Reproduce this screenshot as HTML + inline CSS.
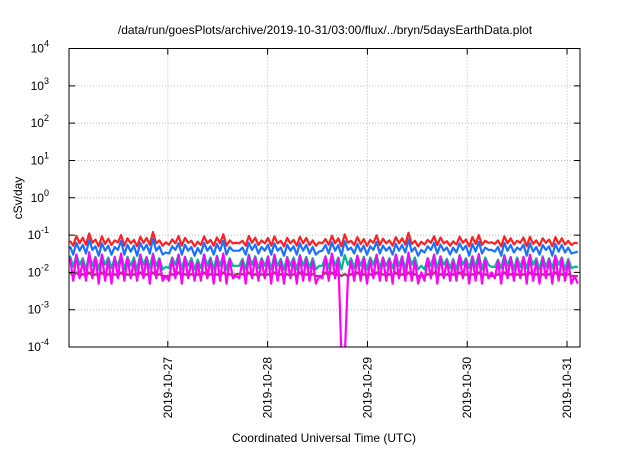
<!DOCTYPE html>
<html><head><meta charset="utf-8"><style>
body{margin:0;background:#fff;width:640px;height:448px;overflow:hidden}
svg text{font-family:"Liberation Sans",sans-serif;fill:#000}
</style></head><body>
<svg id="chart" width="640" height="448" viewBox="0 0 640 448" xmlns="http://www.w3.org/2000/svg">
<text x="325" y="34" font-size="12" text-anchor="middle">/data/run/goesPlots/archive/2019-10-31/03:00/flux/../bryn/5daysEarthData.plot</text>
<text transform="translate(22,198) rotate(-90)" font-size="12" text-anchor="middle">cSv/day</text>
<text x="324" y="442" font-size="12" text-anchor="middle">Coordinated Universal Time (UTC)</text>
<g id="grid"></g>
<defs><clipPath id="pc"><rect x="69" y="48.5" width="511" height="298.5"/></clipPath></defs>
<g id="series" clip-path="url(#pc)"></g>
<rect x="69" y="48.5" width="511" height="298.5" fill="none" stroke="#000" stroke-width="1"/>
<g id="ticks"></g>
</svg>
<script>
const yTickExps=[-4,-3,-2,-1,0,1,2,3,4];
const xTickLabels=["2019-10-27","2019-10-28","2019-10-29","2019-10-30","2019-10-31"];
const xTickDays=[1,2,3,4,5];
const startDay=0.02, stepDay=0.032;
const redMilli=[70,52,95,60,85,55,110,62,75,50,92,58,80,54,72,64,100,52,82,60,
74,50,90,62,84,55,120,60,72,52,64,55,76,60,94,52,84,62,70,50,
66,54,92,60,74,52,86,60,105,52,72,60,62,60,70,52,95,62,85,54,
72,60,84,52,92,60,70,50,84,60,74,52,90,60,84,54,72,52,64,60,
78,55,96,60,82,50,104,62,70,54,88,58,78,52,74,62,98,54,80,60,
72,52,88,60,82,56,115,58,70,50,66,56,74,62,92,54,86,60,68,52,
68,56,90,62,76,50,88,58,100,54,70,62,64,58,72,50,92,60,82,56,
70,62,86,50,90,58,72,52,82,62,76,50,88,58,82,56,70,54,62,60];
const blueMilli=[50,30,62,38,55,32,75,40,50,28,60,38,52,30,48,40,70,30,55,36,
52,28,62,40,55,32,80,38,50,30,34,32,50,40,60,30,55,38,48,28,
45,32,62,38,50,30,58,38,70,30,48,38,38,38,46,30,62,40,56,32,
48,38,55,30,60,38,46,28,55,38,50,30,60,38,55,32,48,30,36,38,
54,32,64,38,54,28,68,40,46,32,58,36,52,30,50,40,66,32,52,38,
48,30,58,38,54,34,76,36,46,28,40,34,50,40,62,32,56,38,46,30,
46,34,60,40,52,28,58,36,66,32,46,40,40,36,48,28,62,38,54,34,
46,40,56,28,60,36,48,30,54,40,50,28,58,36,54,34,46,32,34,36];
const greenMilli=[28,14,30,16,24,12,30,15,26,12,29,16,25,13,24,15,30,12,26,15,
25,12,30,16,26,13,32,15,24,12,14,13,25,16,30,12,26,15,24,12,
22,13,30,15,25,12,28,15,30,12,24,15,15,15,23,12,30,16,27,13,
24,15,27,12,29,15,23,12,26,15,25,12,29,15,26,13,24,12,15,15,
27,13,31,15,25,12,29,16,24,13,28,15,26,12,25,16,29,13,25,15,
24,13,29,15,27,12,31,16,25,12,15,12,24,15,29,13,27,16,23,13,
23,12,29,16,24,13,27,14,31,12,25,16,14,14,22,13,29,15,26,12,
25,14,26,13,28,16,24,12,27,14,24,13,28,16,25,12,23,13,14,14];
const brownMilli=[10,8,10,8,9,8,10,8,9,8,10,8,9,8,9,8,10,8,9,8,
9,8,10,8,9,8,10,8,9,8,8,8,9,8,10,8,9,8,9,8,
9,8,10,8,9,8,9,8,10,8,9,8,9,9,9,8,10,8,9,8,
9,8,9,8,10,8,9,8,9,8,9,8,10,8,9,8,9,8,8,8,
10,8,10,8,9,8,9,8,9,8,10,8,9,8,9,8,10,8,9,8,
9,8,10,8,9,8,10,8,9,8,8,8,9,8,10,8,9,8,9,8,
9,8,10,8,9,8,9,8,10,8,9,8,8,8,9,8,10,8,9,8,
9,8,9,8,10,8,9,8,9,8,9,8,10,8,9,8,9,8,8,8];
const magentaMilli=[25,6,30,7,20,6,35,7,25,5,30,6,22,5,26,7,32,6,24,7,
20,6,30,7,25,5,30,7,22,6,8,6,24,7,30,5,26,7,20,6,
18,6,30,7,22,5,26,6,32,5,22,7,8,7,20,5,28,7,25,6,
22,7,26,5,30,6,20,5,25,7,22,5,28,6,24,6,20,5,8,7,
26,6,32,7,24,0.05,0.05,7,20,6,28,6,24,5,22,7,30,6,25,6,
22,5,30,7,26,6,34,6,20,5,10,6,24,7,30,5,26,7,20,6,
20,6,28,7,22,5,26,6,30,5,22,7,10,7,20,5,28,7,25,6,
22,7,26,5,30,6,20,5,25,7,22,5,28,6,24,6,20,5,8,5];
const NS="http://www.w3.org/2000/svg";
const L=69,R=580,T=48.5,B=347;
function yScale(v){return B-(Math.log10(v)+4)/8*(B-T);}
function xScale(d){return L+(d-0.01)*(R-L)/5.12;}
const grid=document.getElementById('grid'),ticks=document.getElementById('ticks'),series=document.getElementById('series');
yTickExps.forEach(e=>{
 const y=yScale(Math.pow(10,e));
 if(e>-4&&e<4){const g=document.createElementNS(NS,'line');
 
 
 g.setAttribute('x1',L);g.setAttribute('x2',R);g.setAttribute('y1',y);g.setAttribute('y2',y);g.setAttribute('stroke','#bbb');g.setAttribute('stroke-dasharray','1,2');grid.appendChild(g);}
 const t=document.createElementNS(NS,'path');
 
 
 t.setAttribute('d',`M${L} ${y}h6M${R} ${y}h-6`);t.setAttribute('stroke','#000');ticks.appendChild(t);
 const tx=document.createElementNS(NS,'text');
 
 
 tx.setAttribute('x',L-20);tx.setAttribute('y',y+4);tx.setAttribute('text-anchor','end');tx.setAttribute('font-size','12');
 tx.textContent='10';const sp=document.createElementNS(NS,'tspan');sp.setAttribute('dy','-6');sp.setAttribute('font-size','9');sp.textContent=String(e);tx.appendChild(sp);ticks.appendChild(tx);
});
xTickDays.forEach((d,i)=>{
 const x=xScale(d);
 const g=document.createElementNS(NS,'line');
 
 
 g.setAttribute('x1',x);g.setAttribute('x2',x);g.setAttribute('y1',T);g.setAttribute('y2',B);g.setAttribute('stroke','#bbb');g.setAttribute('stroke-dasharray','1,2');grid.appendChild(g);
 const t=document.createElementNS(NS,'path');
 
 
 t.setAttribute('d',`M${x} ${B}v-6M${x} ${T}v6`);t.setAttribute('stroke','#000');ticks.appendChild(t);
 const tx=document.createElementNS(NS,'text');
 
 
 tx.setAttribute('transform',`translate(${x+4},${B+10}) rotate(-90)`);tx.setAttribute('text-anchor','end');tx.setAttribute('font-size','12');
 tx.textContent=xTickLabels[i];ticks.appendChild(tx);
});
[[redMilli,'#ff2020','series-red'],[greenMilli,'#00b894','series-green'],[blueMilli,'#1a70ff','series-blue'],[brownMilli,'#a0405a','series-brown'],[magentaMilli,'#ff00ff','series-magenta']].forEach(([arr,c,n])=>{
 const p=document.createElementNS(NS,'polyline');
 
 
 p.setAttribute('points',arr.map((v,i)=>`${xScale(startDay+i*stepDay).toFixed(1)},${yScale(v/1000).toFixed(1)}`).join(' '));
 p.setAttribute('fill','none');p.setAttribute('stroke',c);p.setAttribute('stroke-width','2.2');p.setAttribute('stroke-linejoin','round');
 series.appendChild(p);
});
</script>
</body></html>
